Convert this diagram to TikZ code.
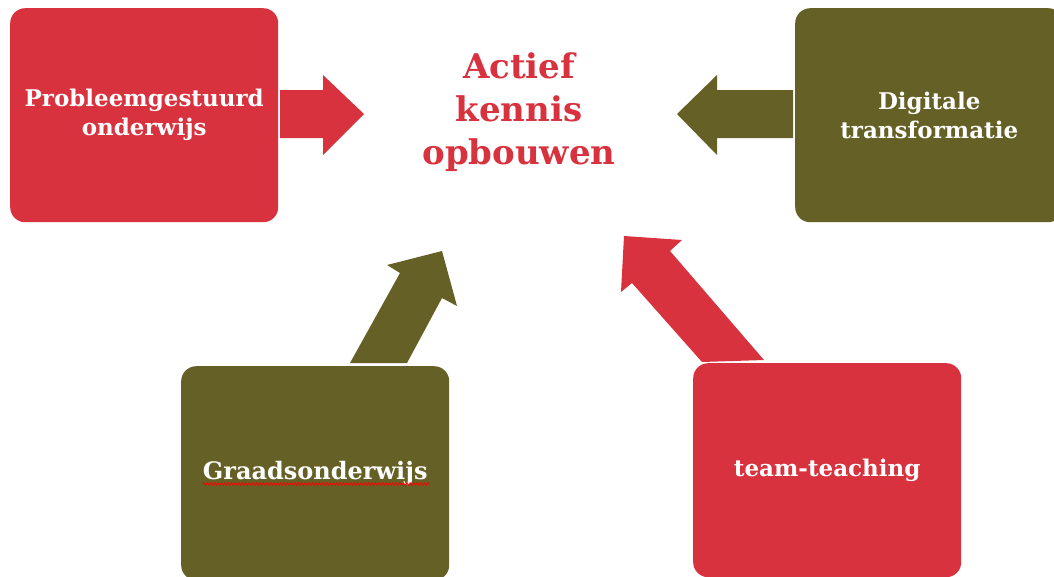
\documentclass[tikz,border=0pt]{standalone}
\usepackage{fontspec}
\setmainfont{DejaVu Serif}
\usetikzlibrary{decorations.pathmorphing}
\definecolor{cred}{RGB}{216,50,62}
\definecolor{colive}{RGB}{101,96,38}
\tikzset{
  box/.style={rounded corners=15pt, minimum width=268pt, minimum height=214pt,
    anchor=north west, text=white, align=center, inner sep=0pt,
    font=\bfseries\fontsize{23}{29}\selectfont},
  blockarrow/.style={draw=none}
}
\begin{document}
\begin{tikzpicture}[x=1pt,y=-1pt]
\useasboundingbox (0,0) rectangle (1054,576);
\fill[white] (0,0) rectangle (1054,576);
% block arrows
\fill[cred,blockarrow] (280,90) -- (323,90) -- (323,75) -- (364,114) -- (323,155) -- (323,138) -- (280,138) -- cycle;
\fill[colive,blockarrow] (793,90) -- (717,90) -- (717,75) -- (677,114) -- (717,155) -- (717,138) -- (793,138) -- cycle;
\fill[colive,blockarrow] (350,363) -- (400,273) -- (387,265) -- (442,251) -- (457,306) -- (442,298) -- (407,363) -- cycle;
\fill[cred,blockarrow] (702,362) -- (632,283) -- (621,292) -- (624,236) -- (682,240) -- (670,251) -- (764,360) -- cycle;
% boxes
\node[box, fill=cred] (pgo) at (10,8) {Probleemgestuurd\\onderwijs};
\node[box, fill=colive] (dt) at (795,8) {Digitale\\transformatie};
\node[box, fill=colive, font=\bfseries\fontsize{24}{29}\selectfont] (go) at (181,366) {Graadsonderwijs};
\node[box, fill=cred] (tt) at (693,363) {team-teaching};
\draw[red, line width=0.9pt, decorate, decoration={zigzag, segment length=3.5pt, amplitude=1.1pt}] (203,484) -- (429,484);
% center
\node[text=cred, align=center, font=\bfseries\fontsize{34}{43}\selectfont] (ak) at (519,112) {Actief\\kennis\\opbouwen};
\end{tikzpicture}
\end{document}
